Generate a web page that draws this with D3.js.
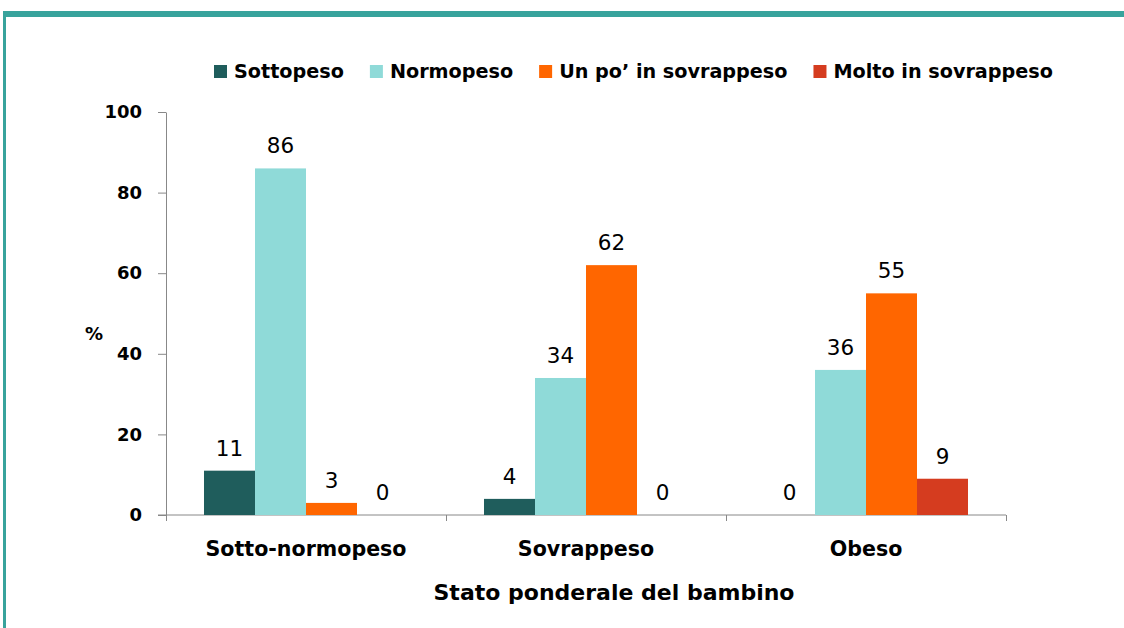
<!DOCTYPE html>
<html>
<head>
<meta charset="utf-8">
<script src="https://cdn.jsdelivr.net/npm/d3@7"></script>
<style>
  body { margin: 0; background: #fff; }
  text { font-family: "DejaVu Sans", sans-serif; }
</style>
</head>
<body>
<svg id="main" width="1124" height="628"></svg>
<script>
// data
var categories = ["Sotto-normopeso", "Sovrappeso", "Obeso"];
var seriesNames = ["Sottopeso", "Normopeso", "Un po\u2019 in sovrappeso", "Molto in sovrappeso"];
var sottopeso = [11, 4, 0];
var normopeso = [86, 34, 36];
var unPo = [3, 62, 55];
var molto = [0, 0, 9];
var yTicks = [0, 20, 40, 60, 80, 100];

var colours = ["#1f5d5c", "#8fdad8", "#ff6600", "#d53c1f"];
var seriesValues = [sottopeso, normopeso, unPo, molto];

function drawChart(){
    var svg = d3.select("#main");

    // frame, teal line top and left
    svg.append("rect").attr("x", 3).attr("y", 11).attr("width", 1121).attr("height", 6).attr("fill", "#38a39c");
    svg.append("rect").attr("x", 3).attr("y", 11).attr("width", 3).attr("height", 617).attr("fill", "#38a39c");

    var m = { left: 166, right: 1006, top: 112, bottom: 515 };

    var y = d3.scaleLinear().domain([0, 100]).range([m.bottom, m.top]);
    var x0 = d3.scaleBand().domain(categories).range([m.left, m.right]).paddingInner(0).paddingOuter(0);
    var x1 = d3.scaleBand().domain(seriesNames).range([0, x0.bandwidth()]).paddingInner(0).paddingOuter(0.745);
    var xEdges = d3.scaleLinear().domain([0, categories.length]).range([m.left, m.right]);

    // y axis
    var yAxis = svg.append("g").attr("transform", "translate(" + m.left + ",0)")
        .call(d3.axisLeft(y).tickValues(yTicks).tickSize(8).tickPadding(16).tickSizeOuter(0));
    yAxis.select(".domain").attr("stroke", "#888");
    yAxis.selectAll(".tick line").attr("stroke", "#888");
    yAxis.selectAll(".tick text").attr("font-size", 18).attr("font-weight", "bold").attr("fill", "#000")
        .attr("font-family", "DejaVu Sans");

    // x axis with ticks at category edges
    var xAxis = svg.append("g").attr("transform", "translate(0," + m.bottom + ")")
        .call(d3.axisBottom(xEdges).tickValues(d3.range(categories.length + 1)).tickFormat("").tickSize(6).tickSizeOuter(0));
    xAxis.select(".domain").attr("stroke", "#888").attr("d", "M" + (m.left - 8) + ",0H" + m.right);
    xAxis.selectAll(".tick line").attr("stroke", "#888");

    // bars
    var groups = svg.append("g").selectAll("g").data(categories).enter().append("g")
        .attr("transform", function(c) { return "translate(" + x0(c) + ",0)"; });

    groups.each(function(c, ci) {
        var g = d3.select(this);
        var rows = seriesNames.map(function(s, si) { return { s: s, v: seriesValues[si][ci], col: colours[si] }; });
        g.selectAll("rect").data(rows).enter().append("rect")
            .attr("x", function(d) { return x1(d.s); })
            .attr("y", function(d) { return y(d.v); })
            .attr("width", x1.bandwidth())
            .attr("height", function(d) { return y(0) - y(d.v); })
            .attr("fill", function(d) { return d.col; });
        g.selectAll("text").data(rows).enter().append("text")
            .attr("x", function(d) { return x1(d.s) + x1.bandwidth() / 2; })
            .attr("y", function(d) { return y(d.v) - 15; })
            .attr("text-anchor", "middle")
            .attr("font-size", 21.5)
            .attr("fill", "#000")
            .text(function(d) { return d.v; });
    });

    // category labels
    svg.append("g").selectAll("text").data(categories).enter().append("text")
        .attr("x", function(c) { return x0(c) + x0.bandwidth() / 2; })
        .attr("y", 556)
        .attr("text-anchor", "middle")
        .attr("font-size", 20.6)
        .attr("font-weight", "bold")
        .text(function(c) { return c; });

    // axis titles
    svg.append("text").attr("x", 614).attr("y", 600).attr("text-anchor", "middle")
        .attr("font-size", 22).attr("font-weight", "bold").text("Stato ponderale del bambino");
    svg.append("text").attr("x", 94).attr("y", 340).attr("text-anchor", "middle")
        .attr("font-size", 18).attr("font-weight", "bold").text("%");

    // legend
    var legend = svg.append("g");
    var lx = 214;
    seriesNames.forEach(function(s, i) {
        legend.append("rect").attr("x", lx).attr("y", 65).attr("width", 13).attr("height", 13).attr("fill", colours[i]);
        var t = legend.append("text").attr("x", lx + 20).attr("y", 78)
            .attr("font-size", 19.2).attr("font-weight", "bold").text(s);
        lx = lx + 20 + t.node().getComputedTextLength() + 26;
    });
}

drawChart();
</script>
</body>
</html>
